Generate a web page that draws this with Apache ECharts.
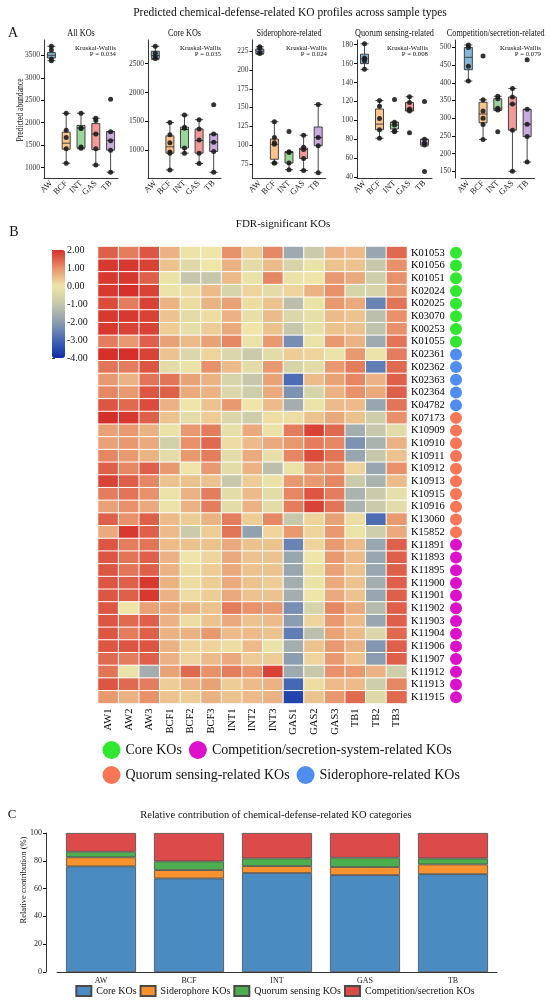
<!DOCTYPE html>
<html><head><meta charset="utf-8">
<script src="https://cdn.jsdelivr.net/npm/echarts@6/dist/echarts.min.js"></script>
<style>html,body{margin:0;padding:0;background:#fff}#c{width:550px;height:1000px}</style>
</head><body><div id="c"></div>
<script>
// ---------- Panel A: boxplots ----------
const groups = ['AW','BCF','INT','GAS','TB'];
const panelTitles = ['All KOs','Core KOs','Siderophore-related','Quorum sensing-related','Competition/secretion-related'];
const pValues = ['0.034','0.035','0.024','0.008','0.079'];
// box stats: [min, Q1, median, Q3, max]
const allBox  = [[3380,3440,3500,3560,3700],[1100,1410,1545,1790,2210],[1420,1440,1885,1940,2210],[1060,1400,1750,1980,2100],[900,1390,1610,1800,1800]];
const coreBox = [[2570,2590,2640,2715,2800],[660,950,1060,1250,1480],[950,1040,1360,1400,1610],[770,950,1170,1370,1530],[620,980,1140,1280,1280]];
const sidBox  = [[221,222,225,228,231],[76,81,101,108,131],[67,76,90,91,91],[66,82,94,96,113],[63,99,110,124,154]];
const qsBox   = [[154,160,165,170,181],[81,90,96,112,121],[88,91,95,98,98],[110,110,112,119,125],[73,74,76,80,80]];
const compBox = [[405,437,472,500,507],[240,287,312,345,352],[322,323,328,355,362],[150,266,340,360,384],[176,248,283,325,325]];
// individual points per group
const allPts  = [[3700,3620,3420,3380],[2210,1830,1670,1420,1100],[2210,1880,1870,1460,1430],[2100,2050,1750,1420,1060],[2520,1800,1600,1390,900]];
const corePts = [[2800,2680,2620,2590],[1480,1270,1130,970,950,660],[1610,1400,1380,1040,950],[1530,1370,1180,950,770],[1790,1280,1140,980,620]];
const sidPts  = [[231,229,223,222],[131,110,103,101,76,76],[118,91,90,76,67],[113,97,94,82,66],[154,110,99,63]];
const qsPts   = [[181,166,165,163,154],[121,115,102,90,81],[122,98,95,89,88],[125,119,112,110,87],[120,80,76,74,46]];
const compPts = [[507,500,447,405],[476,352,320,300,282,240],[362,355,328,323,262],[384,360,340,266,150],[465,325,283,248,176]];
// y tick labels per panel
const allTicks  = [1000,1500,2000,2500,3000,3500];
const coreTicks = [1000,1500,2000,2500];
const sidTicks  = [75,100,125,150,175,200,225];
const qsTicks   = [40,60,80,100,120,140,160,180];
const compTicks = [150,200,250,300,350,400,450,500];

// ---------- Panel B: heatmap ----------
const samples = ['AW1','AW2','AW3','BCF1','BCF2','BCF3','INT1','INT2','INT3','GAS1','GAS2','GAS3','TB1','TB2','TB3'];
const coreKOs = ['K01053','K01056','K01051','K02024','K02025','K03070','K00253','K01055'];
const sideroKOs = ['K02361','K02362','K02363','K02364','K04782'];
const quorumKOs = ['K07173','K10909','K10910','K10911','K10912','K10913','K10915','K10916','K13060','K15852'];
const compKOs = ['K11891','K11893','K11895','K11900','K11901','K11902','K11903','K11904','K11906','K11907','K11912','K11913','K11915'];
const coreValues = [
 [1.5,1.2,1.6,0.6,-0.1,0.0,1.0,0.3,1.1,-1.7,-0.9,0.6,0.5,-1.8,1.4],
 [1.9,1.9,1.8,0.4,-0.4,0.0,0.6,-0.3,0.5,-0.6,-0.1,0.4,0.4,-1.0,1.0],
 [1.9,1.9,1.5,-0.1,-1.0,-1.0,0.5,-0.1,1.1,-0.1,0.0,0.9,0.7,-0.8,1.0],
 [1.9,2.0,1.8,-0.1,0.1,0.5,-0.6,0.2,-0.3,0.2,0.6,1.0,-0.6,-0.6,0.9],
 [1.7,1.2,1.8,0.6,0.1,0.6,0.8,0.1,0.4,-1.2,-0.1,0.9,0.7,-2.5,1.3],
 [1.9,1.9,1.8,0.4,-0.3,0.1,0.6,-0.2,0.5,-0.5,-0.2,0.5,0.4,-1.2,1.0],
 [1.9,1.8,1.8,0.3,-0.2,0.3,0.7,0.0,0.4,-1.0,-0.2,0.4,0.4,-1.1,1.0],
 [1.2,0.9,1.5,0.8,0.5,0.8,1.1,-0.1,0.9,-2.3,-0.1,0.9,0.6,-1.7,1.3]
];
const sideroValues = [
 [2.0,2.0,1.8,0.4,-0.5,0.2,-0.5,-0.9,-0.3,0.3,0.2,-0.1,0.9,-0.1,1.2],
 [1.3,1.2,1.6,-0.3,-0.1,1.0,0.5,-0.3,0.9,-0.6,-0.3,0.9,1.2,-2.6,1.4],
 [0.9,0.6,1.3,1.3,0.8,0.6,-0.6,-1.0,0.8,-2.9,0.5,0.8,1.1,0.6,1.5],
 [1.1,0.9,1.6,1.5,0.7,0.6,-0.5,-0.8,0.7,-2.2,-0.6,0.6,1.0,0.7,1.5],
 [1.6,1.4,1.7,0.6,0.0,0.4,0.9,0.0,0.5,-1.6,-0.1,0.5,0.5,-1.8,1.3]
];
const quorumValues = [
 [2.0,1.9,1.5,0.4,-0.3,0.3,-0.5,-0.8,0.1,0.1,0.4,0.7,0.4,-0.8,1.0],
 [0.8,0.9,0.6,-0.1,0.9,1.2,-0.2,0.7,-0.1,1.2,1.8,1.4,-1.6,-1.0,-0.3],
 [0.8,0.9,0.7,-0.7,1.0,1.4,0.1,0.5,0.7,0.9,1.2,1.1,-2.2,-1.5,0.6],
 [1.1,0.9,0.6,-0.3,0.9,1.2,-0.3,0.7,-0.2,1.1,1.7,1.3,-1.8,-1.0,0.4],
 [1.5,1.1,1.5,0.9,0.0,0.9,-0.3,0.6,-1.2,-0.1,0.9,1.0,0.2,-1.8,1.0],
 [1.8,1.5,1.1,0.4,0.4,0.4,-1.0,0.3,-0.1,0.9,0.9,1.1,-0.9,-1.5,0.5],
 [1.2,1.3,1.0,-0.1,0.6,1.2,-0.3,0.5,-0.3,1.1,1.6,1.2,-1.5,-0.9,-0.2],
 [0.8,1.0,0.7,-0.1,0.6,1.2,-0.3,0.6,-0.3,1.2,1.8,1.3,-1.5,-0.9,-0.3],
 [1.5,1.0,1.5,0.5,0.3,0.6,1.2,0.3,1.1,-1.0,0.2,0.8,0.1,-2.9,0.9],
 [0.7,1.9,1.5,0.5,-0.9,0.3,1.3,-1.9,0.2,0.9,0.2,0.9,-0.1,-0.8,0.7]
];
const compValues = [
 [1.6,1.2,1.3,0.5,0.4,0.4,0.7,0.4,0.4,-2.5,0.2,0.9,0.5,-1.8,1.5],
 [1.6,1.3,1.5,0.6,0.0,0.2,0.7,0.4,0.4,-1.8,0.0,0.9,0.5,-1.8,1.5],
 [1.6,1.3,1.5,0.6,0.1,0.3,0.7,0.4,0.4,-1.8,0.1,0.8,0.4,-1.8,1.5],
 [1.6,1.5,1.9,0.6,0.1,0.3,0.7,0.4,0.3,-1.6,-0.1,0.7,0.4,-1.6,1.5],
 [1.6,1.5,1.9,0.6,0.1,0.3,0.7,0.4,0.4,-1.6,0.0,0.7,0.4,-1.8,1.5],
 [1.6,0.0,0.8,0.7,0.6,0.4,1.2,1.0,0.9,-2.3,-0.6,1.1,0.7,-1.3,1.5],
 [1.6,1.4,1.5,0.6,0.1,0.4,0.7,0.4,0.5,-2.0,0.2,0.9,0.5,-1.8,1.5],
 [1.6,1.2,1.5,0.6,0.6,0.9,0.5,0.5,0.4,-2.6,-1.2,0.8,0.5,-0.5,1.4],
 [1.6,1.6,1.6,0.6,0.2,0.2,0.1,0.5,-0.1,-1.6,0.4,0.9,0.6,-2.1,1.5],
 [1.4,1.2,1.5,0.6,0.2,0.5,0.7,0.3,0.3,-2.0,0.2,0.9,0.4,-2.0,1.5],
 [1.3,-0.1,-1.6,0.8,1.4,1.0,1.2,1.0,1.8,-1.7,-1.0,1.0,0.9,0.6,-0.8],
 [1.6,1.4,1.2,0.3,0.6,0.8,0.3,0.5,0.6,-3.0,0.1,0.5,0.5,-0.8,1.1],
 [0.9,0.6,1.0,0.4,0.3,0.6,0.4,0.5,0.6,-3.6,0.4,0.9,1.4,-0.4,1.4]
];

// ---------- Panel C: stacked bars ----------
const barGroups = ['AW','BCF','INT','GAS','TB'];
const coreShare = [76, 67.3, 71.2, 69.7, 70.4];
const sideroShare = [6.5, 6, 5, 5.8, 7];
const quorumShare = [4, 6.3, 5.5, 6.7, 4.3];
const compShare = [13.5, 20.4, 18.3, 17.8, 18.3];

// ---------- styling ----------
const FF = 'Liberation Serif';
const boxColors = ['#86b7dc','#fcc48a','#9ad59a','#f29a98','#c9abe0'];
const catColors = {core:'#2fe82f', sid:'#4f8ef0', qs:'#f87656', comp:'#dd10cc'};
const heatColors = ['#0b2ca8','#4568b4','#8c9db1','#c7c8ab','#efe5a8','#e8916a','#d52f2a'];
const barColors = ['#4a8cc2','#f7922e','#4cae4c','#dc4a4a'];

const panels = [
  {box: allBox, pts: allPts, ticks: allTicks, min: 770, max: 3840, left: 44, width: 74, off: 0, kwRight: 116},
  {box: coreBox, pts: corePts, ticks: coreTicks, min: 520, max: 2910, left: 148, width: 73, off: 0, kwRight: 221},
  {box: sidBox, pts: sidPts, ticks: sidTicks, min: 56, max: 240, left: 252.5, width: 73, off: 0, kwRight: 327},
  {box: qsBox, pts: qsPts, ticks: qsTicks, min: 39, max: 185, left: 357, width: 75, off: 0, kwRight: 428},
  {box: compBox, pts: compPts, ticks: compTicks, min: 131, max: 521, left: 461, width: 73.5, off: 6, kwRight: 541}
];

const grids = [], xAxes = [], yAxes = [], series = [], graphics = [];
function txt(t, x, y, size, align, sx, rot) {
  graphics.push({type:'text', x:x, y:y, silent:true, scaleX: sx || 1, rotation: rot || 0,
    style:{text:t, fontSize: size, fontFamily: FF, fill:'#111', align: align||'center', verticalAlign:'middle'}});
}

txt('Predicted chemical-defense-related KO profiles across sample types', 290, 13, 11.5);
txt('A', 13, 33, 14);
txt('Predicted abundance', 20, 110, 9.5, 'center', 0.8, Math.PI / 2);
panels.forEach((p, i) => {
  grids.push({left: p.left, width: p.width, top: 40, height: 138});
  xAxes.push({gridIndex: i, type: 'category', data: groups,
    axisLine: {lineStyle: {color: '#000', width: 0.8}},
    axisTick: {alignWithLabel: true, length: 3, lineStyle: {color: '#000'}},
    axisLabel: {interval: 0, rotate: 45, fontSize: 8.5, fontFamily: FF, color: '#222', margin: 4}});
  yAxes.push({gridIndex: i, type: 'value', min: p.min, max: p.max, offset: p.off,
    splitLine: {show: false},
    axisLine: {show: true, lineStyle: {color: '#000', width: 0.8}},
    axisTick: {show: true, length: 3, customValues: p.ticks, lineStyle: {color: '#000'}},
    axisLabel: {customValues: p.ticks, formatter: v => String(v), fontSize: 7.5, fontFamily: FF, color: '#333', margin: 4}});
  series.push({type: 'boxplot', xAxisIndex: i, yAxisIndex: i, boxWidth: [8, 8],
    itemStyle: {borderColor: '#333', borderWidth: 0.9},
    data: p.box.map((b, j) => ({value: b, itemStyle: {color: boxColors[j], borderColor: '#333'}}))});
  const pts = [];
  p.pts.forEach((arr, j) => arr.forEach(v => pts.push([j, v])));
  series.push({type: 'scatter', xAxisIndex: i, yAxisIndex: i, symbolSize: 5, z: 5,
    itemStyle: {color: '#1e1e1e', opacity: 0.9}, data: pts});
  txt(panelTitles[i], p.left + p.width / 2 + (i === 4 ? -2 : 0), 33, 10.5, 'center', 0.78);
  txt('Kruskal-Wallis', p.kwRight, 48, 6.8, 'right');
  txt('P = ' + pValues[i], p.kwRight, 54.5, 6.8, 'right');
});

// heatmap
const kos = coreKOs.concat(sideroKOs, quorumKOs, compKOs);
const heatRows = coreValues.concat(sideroValues, quorumValues, compValues);
const koCat = [].concat(coreKOs.map(() => 'core'), sideroKOs.map(() => 'sid'), quorumKOs.map(() => 'qs'), compKOs.map(() => 'comp'));
const heatData = [];
heatRows.forEach((row, r) => row.forEach((v, c) => heatData.push([c, r, v])));
const gH = grids.length;
grids.push({left: 98, top: 246.5, width: 309, height: 457});
xAxes.push({gridIndex: gH, type: 'category', data: samples, axisLine: {show: false}, axisTick: {show: false},
  axisLabel: {interval: 0, rotate: 90, fontSize: 10.5, fontFamily: FF, color: '#000', margin: 5}});
yAxes.push({gridIndex: gH, type: 'category', data: kos, inverse: true, position: 'right',
  axisLine: {show: false}, axisTick: {show: false},
  axisLabel: {interval: 0, fontSize: 10.5, fontFamily: FF, color: '#000', margin: 4}});
const heatIndex = series.length;
series.push({type: 'heatmap', xAxisIndex: gH, yAxisIndex: gH, data: heatData,
  itemStyle: {borderColor: '#fff', borderWidth: 1}});
txt('B', 14, 232, 14);
txt('FDR-significant KOs', 283, 224, 11);

// colorbar axis
const gC = grids.length;
grids.push({left: 52, top: 250, width: 13, height: 108});
xAxes.push({gridIndex: gC, type: 'value', show: false, min: 0, max: 1});
yAxes.push({gridIndex: gC, type: 'value', position: 'right', min: -4, max: 2, interval: 1,
  splitLine: {show: false}, axisLine: {show: false},
  axisTick: {show: true, length: 3, lineStyle: {color: '#333'}},
  axisLabel: {formatter: v => v.toFixed(2), fontSize: 10, fontFamily: FF, color: '#111', margin: 2}});
series.push({type: 'scatter', xAxisIndex: gC, yAxisIndex: gC, data: [], silent: true});

// category markers
const gM = grids.length;
grids.push({left: 450, top: 246.5, width: 12, height: 457});
xAxes.push({gridIndex: gM, type: 'category', data: ['m'], show: false});
yAxes.push({gridIndex: gM, type: 'category', data: kos, inverse: true, show: false});
series.push({type: 'scatter', xAxisIndex: gM, yAxisIndex: gM, symbolSize: 12, silent: true,
  data: kos.map((k, r) => ({value: [0, r], itemStyle: {color: catColors[koCat[r]], opacity: 1}}))});
const legendNames = {hmCore: 'Core KOs', hmComp: 'Competition/secretion-system-related KOs', hmQS: 'Quorum sensing-related KOs', hmSid: 'Siderophore-related KOs'};
[['hmCore', catColors.core], ['hmComp', catColors.comp], ['hmQS', catColors.qs], ['hmSid', catColors.sid]].forEach(([n, c]) => {
  series.push({type: 'scatter', name: n, xAxisIndex: gM, yAxisIndex: gM, data: [], itemStyle: {color: c, opacity: 1}});
});

// stacked bars
const gB = grids.length;
grids.push({left: 57, width: 440, top: 833, height: 139});
xAxes.push({gridIndex: gB, type: 'category', data: barGroups,
  axisLine: {lineStyle: {color: '#000', width: 0.8}},
  axisTick: {alignWithLabel: true, length: 3, lineStyle: {color: '#000'}},
  axisLabel: {interval: 0, fontSize: 8, fontFamily: FF, color: '#222', margin: 5}});
yAxes.push({gridIndex: gB, type: 'value', min: 0, max: 100, interval: 20, offset: 11,
  splitLine: {show: false}, axisLine: {show: true, lineStyle: {color: '#000', width: 0.8}},
  axisTick: {show: true, length: 3, lineStyle: {color: '#000'}},
  axisLabel: {fontSize: 8, fontFamily: FF, color: '#222', margin: 4}});
[['Core KOs', coreShare], ['Siderophore KOs', sideroShare], ['Quorum sensing KOs', quorumShare], ['Competition/secretion KOs', compShare]].forEach(([n, d], k) => {
  series.push({type: 'bar', name: n, stack: 'share', xAxisIndex: gB, yAxisIndex: gB, barWidth: 70, data: d,
    itemStyle: {color: barColors[k], borderColor: '#4a4a4a', borderWidth: 0.8}});
});
txt('C', 12, 815, 13);
txt('Relative contribution of chemical-defense-related KO categories', 276, 815, 10.5);
txt('Relative contribution (%)', 24, 880, 8.5, 'center', 1, Math.PI / 2);

const option = {
  animation: false,
  backgroundColor: '#fff',
  textStyle: {fontFamily: FF},
  grid: grids, xAxis: xAxes, yAxis: yAxes, series: series,
  graphic: graphics,
  visualMap: {type: 'continuous', seriesIndex: heatIndex, min: -4, max: 2, calculable: false,
    orient: 'vertical', left: 52, top: 250, itemWidth: 13, itemHeight: 108, padding: 0,
    inRange: {color: heatColors}, text: null, showLabel: false, hoverLink: false},
  legend: [
    {data: ['hmCore', 'hmComp'], left: 102.5, top: 741, icon: 'circle', itemWidth: 18, itemHeight: 18, itemGap: 7, padding: 0,
     selectedMode: false, formatter: n => legendNames[n], textStyle: {fontSize: 14, fontFamily: FF, color: '#111'}},
    {data: ['hmQS', 'hmSid'], left: 102.5, top: 766, icon: 'circle', itemWidth: 18, itemHeight: 18, itemGap: 7, padding: 0,
     selectedMode: false, formatter: n => legendNames[n], textStyle: {fontSize: 14, fontFamily: FF, color: '#111'}},
    {data: ['Core KOs', 'Siderophore KOs', 'Quorum sensing KOs', 'Competition/secretion KOs'], left: 'center', top: 985,
     icon: 'rect', itemWidth: 15, itemHeight: 10, itemGap: 3, padding: 0, selectedMode: false,
     textStyle: {fontSize: 10, fontFamily: FF, color: '#111'}}
  ]
};
const chart = echarts.init(document.getElementById('c'), null, {renderer: 'canvas', width: 550, height: 1000});
chart.setOption(option);
</script></body></html>
